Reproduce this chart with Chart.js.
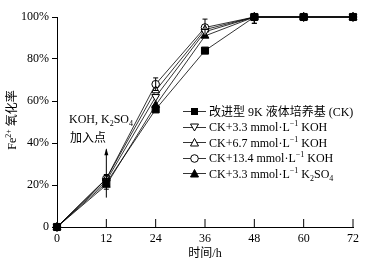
<!DOCTYPE html>
<html>
<head>
<meta charset="utf-8">
<script src="https://cdn.jsdelivr.net/npm/chart.js@4.4.1/dist/chart.umd.min.js"></script>
<style>
  html, body { margin: 0; padding: 0; background: #fff; }
  #wrap { position: relative; width: 371px; height: 261px; font-family: "Liberation Serif", "Noto Sans CJK SC", serif; color: #000; }
  #c { position: absolute; left: 0; top: 0; }
  .ov { position: absolute; white-space: nowrap; font-size: 12px; line-height: 14px; }
  #ytitle { left: 12px; top: 120px; transform: translate(-50%, -50%) rotate(-90deg); font-size: 12px; }
  #xtitle { left: 205px; top: 253px; transform: translate(-50%, -50%); }
  #legend { left: 183px; top: 104px; }
  #legend .row { height: 15.5px; display: flex; align-items: center; }
  #legend svg { margin-right: 3px; }
  sub, sup { font-size: 8px; line-height: 0; }
</style>
</head>
<body>
<div id="wrap">
  <canvas id="c" width="371" height="261"></canvas>
  <div class="ov" id="ytitle">Fe<sup>2+</sup> 氧化率</div>
  <div class="ov" id="xtitle">时间/h</div>
  <div class="ov" style="left:69px; top:112px;">KOH, K<sub>2</sub>SO<sub>4</sub></div>
  <div class="ov" style="left:70px; top:131px;">加入点</div>
  <div class="ov" id="legend"></div>
</div>
<script>
const hours = [0, 12, 24, 36, 48, 60, 72];
const xTicks = [0, 12, 24, 36, 48, 60, 72];
const yTicks = [0, 20, 40, 60, 80, 100];

const ckData     = [0, 21, 56, 84, 100, 100, 100];
const koh33Data  = [0, 22, 62, 93, 100, 100, 100];
const koh67Data  = [0, 23, 65, 94, 100, 100, 100];
const koh134Data = [0, 23, 68, 95, 100, 100, 100];
const k2so4Data  = [0, 20, 58, 91, 100, 100, 100];

const koh134Err = [0, 2, 3, 4, 3, 0, 0];
const ckErr     = [0, 2, 0, 0, 3, 0, 0];

const legendLabels = [
  '改进型 9K 液体培养基 (CK)',
  'CK+3.3 mmol·L<sup>−1</sup> KOH',
  'CK+6.7 mmol·L<sup>−1</sup> KOH',
  'CK+13.4 mmol·L<sup>−1</sup> KOH',
  'CK+3.3 mmol·L<sup>−1</sup> K<sub>2</sub>SO<sub>4</sub>'
];

// arrow marking where KOH / K2SO4 were added (x, from, to)
const arrowAt = { x: 12, from: 14, to: 37 };

function series(data, style, fill, radius, rotation, err) {
  return {
    data: hours.map((h, i) => ({ x: h, y: data[i] })),
    borderColor: '#000',
    borderWidth: 0.8,
    pointStyle: style,
    pointRotation: rotation || 0,
    pointRadius: radius,
    pointBorderWidth: 1,
    pointBorderColor: '#000',
    pointBackgroundColor: fill ? '#000' : '#fff',
    tension: 0,
    clip: false,
    errors: err || null
  };
}

const errorBars = {
  id: 'errorBars',
  afterDatasetsDraw(chart) {
    const { ctx, scales: { x, y } } = chart;
    ctx.save();
    ctx.strokeStyle = '#000';
    ctx.lineWidth = 1;
    chart.data.datasets.forEach(ds => {
      if (!ds.errors) return;
      ds.data.forEach((p, i) => {
        const e = ds.errors[i];
        if (!e) return;
        const px = x.getPixelForValue(p.x);
        const top = y.getPixelForValue(Math.min(p.y + e, 100.3));
        const bot = y.getPixelForValue(p.y - e);
        ctx.beginPath();
        ctx.moveTo(px, top); ctx.lineTo(px, bot);
        ctx.moveTo(px - 2.5, top); ctx.lineTo(px + 2.5, top);
        ctx.moveTo(px - 2.5, bot); ctx.lineTo(px + 2.5, bot);
        ctx.stroke();
      });
    });
    // addition arrow
    const ax = x.getPixelForValue(arrowAt.x);
    const a0 = y.getPixelForValue(arrowAt.from);
    const a1 = y.getPixelForValue(arrowAt.to);
    ctx.beginPath();
    ctx.moveTo(ax, a0); ctx.lineTo(ax, a1);
    ctx.stroke();
    ctx.beginPath();
    ctx.moveTo(ax, a1 - 1); ctx.lineTo(ax - 2, a1 + 6); ctx.lineTo(ax + 2, a1 + 6);
    ctx.closePath();
    ctx.fillStyle = '#000';
    ctx.fill();
    // inward x ticks
    ctx.beginPath();
    xTicks.slice(1).forEach(t => {
      const px = x.getPixelForValue(t);
      ctx.moveTo(px, y.bottom); ctx.lineTo(px, y.bottom - 8);
    });
    ctx.stroke();
    ctx.restore();
  }
};

const fontFam = '"Liberation Serif", "Noto Sans CJK SC", serif';

new Chart(document.getElementById('c'), {
  type: 'line',
  data: {
    datasets: [
      series(ckData, 'rect', true, 5),
      series(koh33Data, 'triangle', false, 4.5, 180),
      series(koh67Data, 'triangle', false, 4.5),
      series(koh134Data, 'circle', false, 3.8, 0, koh134Err),
      series(k2so4Data, 'triangle', true, 4.5, 0, ckErr)
    ]
  },
  options: {
    responsive: false,
    animation: false,
    layout: { padding: { top: 17, right: 18, left: 0, bottom: 0 } },
    plugins: { legend: { display: false }, tooltip: { enabled: false } },
    scales: {
      x: {
        type: 'linear', min: 0, max: 72,
        afterFit: s => { s.height = 34; },
        afterBuildTicks: s => { s.ticks = xTicks.map(v => ({ value: v })); },
        border: { color: '#000', width: 1 },
        grid: { drawOnChartArea: false, drawTicks: false },
        ticks: { color: '#000', padding: 5, font: { family: fontFam, size: 12 }, maxRotation: 0 }
      },
      y: {
        min: 0, max: 100,
        afterFit: s => { s.width = 57; },
        afterBuildTicks: s => { s.ticks = yTicks.map(v => ({ value: v })); },
        border: { color: '#000', width: 1 },
        grid: { drawOnChartArea: false, drawTicks: true, tickLength: 5, color: '#000' },
        ticks: { color: '#000', padding: 3, font: { family: fontFam, size: 12 }, callback: v => v === 0 ? '0' : v + '%' }
      }
    }
  },
  plugins: [errorBars]
});

// legend with line + marker icons
const icons = [
  '<rect x="8" y="4" width="7" height="7" fill="#000"/>',
  '<polygon points="7.5,4 15.5,4 11.5,11" fill="#fff" stroke="#000"/>',
  '<polygon points="11.5,3.5 15.5,11 7.5,11" fill="#fff" stroke="#000"/>',
  '<circle cx="11.5" cy="7.5" r="3.8" fill="#fff" stroke="#000"/>',
  '<polygon points="11.5,3.5 15.5,11 7.5,11" fill="#000" stroke="#000"/>'
];
document.getElementById('legend').innerHTML = legendLabels.map((t, i) =>
  '<div class="row"><svg width="23" height="15"><line x1="0" y1="7.5" x2="23" y2="7.5" stroke="#000" stroke-width="0.8"/>' +
  icons[i] + '</svg><span>' + t + '</span></div>').join('');
</script>
</body>
</html>
